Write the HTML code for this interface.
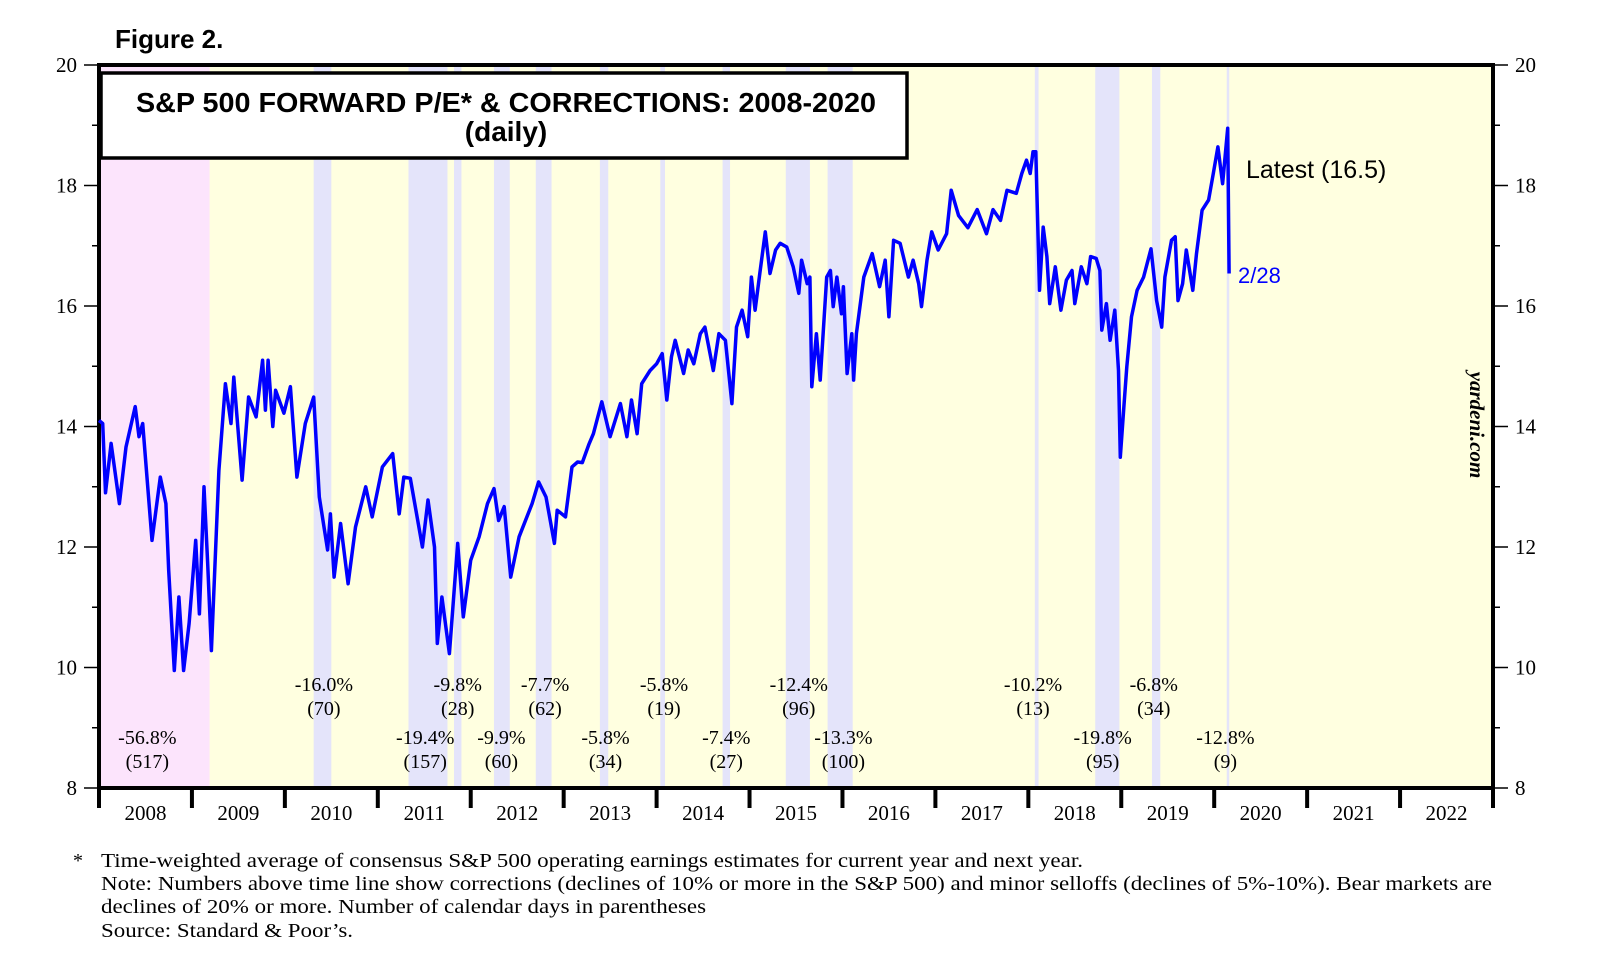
<!DOCTYPE html>
<html><head><meta charset="utf-8"><style>
html,body{margin:0;padding:0;background:#fff;}
svg{display:block;}
</style></head><body>
<svg id="chart" width="1610" height="965" viewBox="0 0 1610 965" xmlns="http://www.w3.org/2000/svg">
<g id="bands"></g>
<g id="axes"></g>
<path id="series" fill="none" stroke="#0000ff" stroke-width="3.5" stroke-linejoin="round"/>
<g id="annots" font-family="'Liberation Serif', serif" font-size="20" text-anchor="middle" fill="#000"></g>
<rect x="101" y="73" width="806" height="85" fill="#fff" stroke="#000" stroke-width="3.5"/>
<text x="506" y="112" text-anchor="middle" font-family="'Liberation Sans', sans-serif" font-weight="bold" font-size="28" textLength="740" lengthAdjust="spacingAndGlyphs">S&amp;P 500 FORWARD P/E* &amp; CORRECTIONS: 2008-2020</text>
<text x="506" y="141" text-anchor="middle" font-family="'Liberation Sans', sans-serif" font-weight="bold" font-size="28">(daily)</text>
<text x="115" y="48" font-family="'Liberation Sans', sans-serif" font-weight="bold" font-size="26">Figure 2.</text>
<text x="1246" y="178" font-family="'Liberation Sans', sans-serif" font-size="25">Latest (16.5)</text>
<text x="1238" y="283" font-family="'Liberation Sans', sans-serif" font-size="22" fill="#0000ff">2/28</text>
<text transform="translate(1470,425) rotate(90)" text-anchor="middle" font-family="'Liberation Serif', serif" font-weight="bold" font-style="italic" font-size="21">yardeni.com</text>
<g font-family="'Liberation Serif', serif" font-size="20">
<text x="73" y="867">*</text>
<text x="101" y="867" textLength="982" lengthAdjust="spacingAndGlyphs">Time-weighted average of consensus S&amp;P 500 operating earnings estimates for current year and next year.</text>
<text x="101" y="890" textLength="1391" lengthAdjust="spacingAndGlyphs">Note: Numbers above time line show corrections (declines of 10% or more in the S&amp;P 500) and minor selloffs (declines of 5%-10%). Bear markets are</text>
<text x="101" y="913" textLength="605" lengthAdjust="spacingAndGlyphs">declines of 20% or more. Number of calendar days in parentheses</text>
<text x="101" y="937" textLength="252" lengthAdjust="spacingAndGlyphs">Source: Standard &amp; Poor’s.</text>
</g>
</svg>
<script>
const years = [2008,2009,2010,2011,2012,2013,2014,2015,2016,2017,2018,2019,2020,2021,2022];
const yTicks = [8,10,12,14,16,18,20];
const bearStart = [2008.0], bearEnd = [2009.19];
const corrStart = [2010.31,2011.33,2011.82,2012.25,2012.70,2013.39,2014.04,2014.71,2015.39,2015.84,2018.07,2018.72,2019.33,2020.135];
const corrEnd   = [2010.50,2011.75,2011.90,2012.42,2012.87,2013.48,2014.09,2014.79,2015.65,2016.11,2018.11,2018.98,2019.42,2020.16];
const annotPct  = ["-56.8%","-16.0%","-19.4%","-9.8%","-9.9%","-7.7%","-5.8%","-5.8%","-7.4%","-12.4%","-13.3%","-10.2%","-19.8%","-6.8%","-12.8%"];
const annotDays = ["(517)","(70)","(157)","(28)","(60)","(62)","(34)","(19)","(27)","(96)","(100)","(13)","(95)","(34)","(9)"];
const annotYear = [2008.52,2010.42,2011.51,2011.86,2012.33,2012.80,2013.45,2014.08,2014.75,2015.53,2016.01,2018.05,2018.8,2019.35,2020.12];
const annotRow  = [1,0,1,0,1,0,1,0,1,0,1,0,1,0,1];
const dates = [2008.0,2008.04,2008.07,2008.13,2008.22,2008.29,2008.39,2008.43,2008.47,2008.57,2008.66,2008.72,2008.75,2008.81,2008.86,2008.91,2008.97,2009.04,2009.08,2009.13,2009.17,2009.21,2009.29,2009.36,2009.42,2009.45,2009.54,2009.61,2009.69,2009.76,2009.79,2009.82,2009.87,2009.9,2009.99,2010.06,2010.13,2010.22,2010.31,2010.37,2010.46,2010.49,2010.53,2010.6,2010.68,2010.76,2010.87,2010.94,2011.05,2011.16,2011.23,2011.28,2011.35,2011.48,2011.54,2011.61,2011.64,2011.69,2011.77,2011.86,2011.92,2012.0,2012.09,2012.18,2012.25,2012.3,2012.36,2012.43,2012.52,2012.66,2012.73,2012.81,2012.9,2012.93,2013.02,2013.09,2013.15,2013.2,2013.27,2013.32,2013.41,2013.5,2013.61,2013.68,2013.73,2013.79,2013.84,2013.93,2014.0,2014.06,2014.11,2014.16,2014.2,2014.29,2014.34,2014.4,2014.47,2014.52,2014.61,2014.67,2014.74,2014.81,2014.86,2014.92,2014.98,2015.02,2015.06,2015.11,2015.17,2015.22,2015.28,2015.33,2015.4,2015.47,2015.53,2015.56,2015.62,2015.65,2015.67,2015.72,2015.76,2015.83,2015.87,2015.9,2015.94,2015.99,2016.01,2016.05,2016.1,2016.12,2016.15,2016.23,2016.32,2016.4,2016.46,2016.5,2016.55,2016.62,2016.71,2016.76,2016.82,2016.85,2016.91,2016.96,2017.03,2017.12,2017.17,2017.25,2017.35,2017.45,2017.55,2017.62,2017.70,2017.77,2017.87,2017.93,2017.98,2018.02,2018.05,2018.08,2018.12,2018.16,2018.2,2018.23,2018.29,2018.35,2018.41,2018.47,2018.5,2018.57,2018.63,2018.67,2018.73,2018.77,2018.79,2018.84,2018.88,2018.93,2018.97,2018.99,2019.03,2019.06,2019.11,2019.17,2019.24,2019.32,2019.38,2019.435,2019.47,2019.54,2019.58,2019.61,2019.66,2019.7,2019.77,2019.81,2019.87,2019.94,2019.99,2020.04,2020.09,2020.145,2020.16];
const peValues = [14.1,14.05,12.9,13.72,12.72,13.66,14.33,13.83,14.05,12.11,13.16,12.72,11.61,9.95,11.17,9.95,10.73,12.11,10.89,13.0,11.72,10.28,13.27,14.71,14.05,14.82,13.11,14.49,14.16,15.1,14.27,15.1,14.0,14.6,14.22,14.66,13.16,14.05,14.49,12.83,11.95,12.55,11.5,12.39,11.39,12.33,13.0,12.5,13.33,13.55,12.55,13.16,13.14,12.0,12.78,12.0,10.4,11.17,10.23,12.06,10.84,11.78,12.17,12.72,12.97,12.44,12.67,11.5,12.17,12.72,13.08,12.83,12.06,12.61,12.5,13.33,13.41,13.4,13.7,13.88,14.41,13.83,14.38,13.83,14.44,13.88,14.71,14.93,15.04,15.21,14.44,15.16,15.43,14.88,15.27,15.04,15.54,15.65,14.93,15.54,15.43,14.38,15.65,15.93,15.49,16.48,15.93,16.54,17.23,16.54,16.93,17.04,16.98,16.65,16.21,16.76,16.37,16.48,14.66,15.54,14.77,16.48,16.59,15.99,16.48,15.87,16.32,14.88,15.54,14.77,15.54,16.48,16.87,16.32,16.76,15.82,17.09,17.04,16.48,16.76,16.37,15.99,16.76,17.23,16.93,17.2,17.92,17.5,17.3,17.6,17.2,17.6,17.42,17.92,17.87,18.2,18.42,18.2,18.56,18.56,16.26,17.31,16.82,16.04,16.65,15.93,16.43,16.59,16.04,16.65,16.37,16.82,16.79,16.59,15.6,16.04,15.43,15.93,14.93,13.49,14.38,14.99,15.82,16.26,16.48,16.95,16.09,15.65,16.48,17.09,17.15,16.09,16.37,16.93,16.26,16.87,17.59,17.76,18.2,18.64,18.03,18.95,16.54];

const NS='http://www.w3.org/2000/svg';
const X0=99, X1=1493, YT=65, YB=788;
function xs(t){return X0+(t-2008)*(X1-X0)/15;}
function ys(v){return YB-(v-8)*(YB-YT)/12;}
function mk(tag,attrs,parent){const e=document.createElementNS(NS,tag);for(const k in attrs)e.setAttribute(k,attrs[k]);parent.appendChild(e);return e;}
const bands=document.getElementById('bands');
let bg=mk('rect',{x:X0,y:YT,width:X1-X0,height:YB-YT,fill:'#ffffe0'},bands);


for(let i=0;i<bearStart.length;i++){
  const r=mk('rect',{x:xs(bearStart[i]),y:YT,width:xs(bearEnd[i])-xs(bearStart[i]),height:YB-YT,fill:'#fce4fc'},bands);
  
  
}
for(let i=0;i<corrStart.length;i++){
  const r=mk('rect',{x:xs(corrStart[i]),y:YT,width:Math.max(2.5,xs(corrEnd[i])-xs(corrStart[i])),height:YB-YT,fill:'#e4e4fa'},bands);
  
  
}
const axes=document.getElementById('axes');
const fr=mk('rect',{x:X0,y:YT,width:X1-X0,height:YB-YT,fill:'none',stroke:'#000','stroke-width':4},axes);


for(let v=8;v<=20;v++){
  const y=ys(v), major=(v%2===0);
  mk('line',{x1:major?X0-15:X0-7,x2:X0,y1:y,y2:y,stroke:'#000','stroke-width':1.5},axes);
  mk('line',{x1:X1,x2:major?X1+15:X1+7,y1:y,y2:y,stroke:'#000','stroke-width':1.5},axes);
}
yTicks.forEach(v=>{
  const l=mk('text',{x:X0-22,y:ys(v)+7,'text-anchor':'end','font-family':"'Liberation Serif', serif",'font-size':21},axes);
  l.textContent=v;
  
  
  const r=mk('text',{x:X1+22,y:ys(v)+7,'font-family':"'Liberation Serif', serif",'font-size':21},axes);
  r.textContent=v;
  
  
});
years.forEach((yr,i)=>{
  mk('line',{x1:xs(yr),x2:xs(yr),y1:YB,y2:YB+20,stroke:'#000','stroke-width':4},axes);
  const t=mk('text',{x:xs(yr+0.5),y:YB+32,'text-anchor':'middle','font-family':"'Liberation Serif', serif",'font-size':21},axes);
  t.textContent=yr;
  
  
});
mk('line',{x1:X1,x2:X1,y1:YB,y2:YB+20,stroke:'#000','stroke-width':4},axes);
let d='';
dates.forEach((t,i)=>{d+=(i?'L':'M')+xs(t).toFixed(1)+' '+ys(peValues[i]).toFixed(1);});
document.getElementById('series').setAttribute('d',d);
const an=document.getElementById('annots');
annotPct.forEach((p,i)=>{
  const y0=annotRow[i]?737:684;
  const a=mk('text',{x:xs(annotYear[i]),y:y0+7},an);a.textContent=p;
  
  
  const b=mk('text',{x:xs(annotYear[i]),y:y0+31},an);b.textContent=annotDays[i];
  
  
});
</script>
</body></html>
